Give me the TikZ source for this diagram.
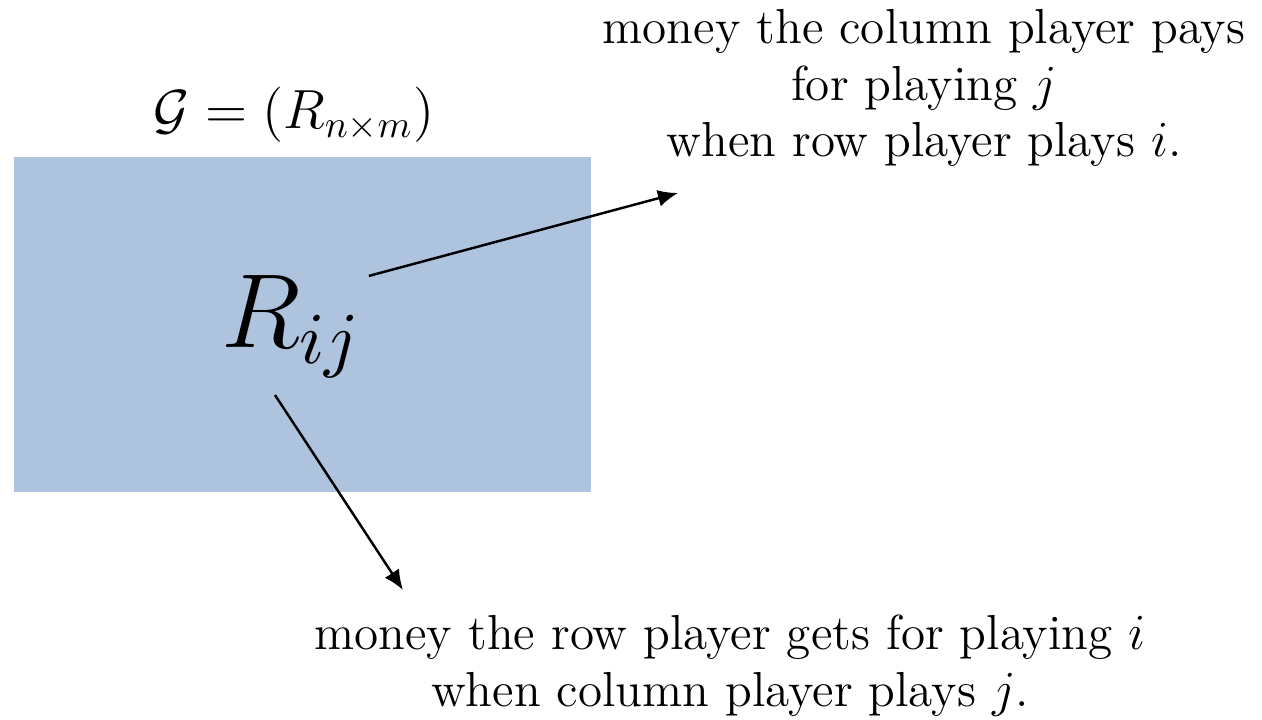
\documentclass[tikz,border=0pt]{standalone}
\usepackage{amsmath,amssymb}
\usepackage{fontspec}
\usetikzlibrary{arrows.meta,calc,positioning}
\definecolor{payblue}{RGB}{174,196,222}
\tikzset{
  payoff/.style={fill=payblue,draw=none},
  flow/.style={-{Latex[length=2mm,width=1.7mm]},line width=0.7pt},
  lab/.style={font=\fontsize{14}{16.2}\selectfont,align=center,inner sep=0pt},
  entry/.style={font=\fontsize{14}{16}\selectfont,inner sep=2pt,scale=2.08},
}
\begin{document}
\begin{tikzpicture}[x=1cm,y=1cm]
  \path[use as bounding box] (0,0) rectangle (12.62,7.2);

  % payoff matrix
  \fill[payoff] (0.14,2.28) rectangle (5.91,5.63);
  \node[lab,scale=1.09] (game) at (2.94,6.05) {$\mathcal{G}=(R_{n\times m})$};
  \node[entry] (rij) at (2.92,3.93) {$R_{ij}$};

  % explanations
  \node[lab] (pays) at (9.24,6.32)
    {money the column player pays\\for playing $j$\\when row player plays $i$.};
  \node[lab] (gets) at (7.30,0.54)
    {money the row player gets for playing $i$\\when column player plays $j$.};

  \coordinate (payend) at (6.78,5.27);
  \coordinate (getend) at (4.03,1.30);
  \draw[flow] ($(rij.north east)+(-0.10,-0.16)$) -- (payend);
  \draw[flow] ($(rij.south)+(-0.17,-0.01)$) -- (getend);
\end{tikzpicture}
\end{document}
